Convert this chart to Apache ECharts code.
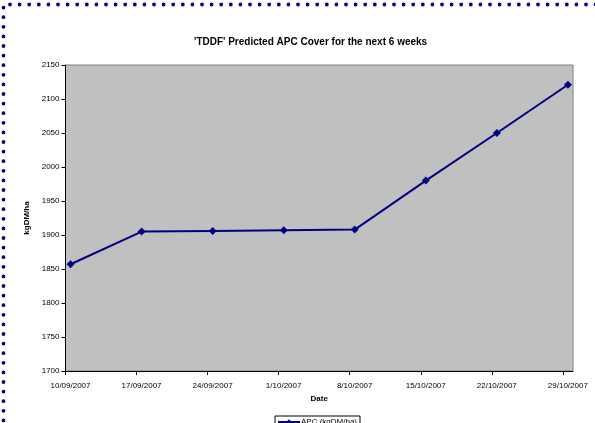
<!DOCTYPE html>
<html>
<head>
<meta charset="utf-8">
<script src="https://cdn.jsdelivr.net/npm/echarts@6/dist/echarts.min.js"></script>
<style>html,body{margin:0;padding:0;background:#fff;}#c{width:595px;height:423px;}</style>
</head>
<body>
<div id="c"></div>
<script>
const dates = ['10/09/2007','17/09/2007','24/09/2007','1/10/2007','8/10/2007','15/10/2007','22/10/2007','29/10/2007'];
const apc = [1857, 1905, 1906, 1907, 1908, 1980, 2050, 2121];
const yTicks = [1700, 1750, 1800, 1850, 1900, 1950, 2000, 2050, 2100, 2150];

function parseDate(s) { const p = s.split('/'); return Date.UTC(+p[2], +p[1] - 1, +p[0]); }
const t0 = parseDate(dates[0]);
const dayOf = s => Math.round((parseDate(s) - t0) / 86400000);
const lastDay = dayOf(dates[dates.length - 1]);
const labelByDay = {};
dates.forEach(d => { labelByDay[dayOf(d)] = d; });
// Excel "between dates": each date sits in the middle of its day band
const seriesData = dates.map((d, i) => [dayOf(d) + 0.5, apc[i]]);

const chart = echarts.init(document.getElementById('c'), null, {renderer: 'canvas'});
const font = 'Liberation Sans, Arial, sans-serif';
chart.setOption({
  animation: false,
  textStyle: {fontFamily: font},
  title: {
    text: "'TDDF' Predicted APC Cover for the next 6 weeks",
    left: 189, top: 32,
    textStyle: {fontSize: 10, fontWeight: 'bold', color: '#000', fontFamily: font}
  },
  grid: {
    left: 65.5, right: 22, top: 65, bottom: 52,
    show: true, backgroundColor: '#c0c0c0', borderColor: '#808080', borderWidth: 1
  },
  legend: {
    data: ['APC (kgDM/ha)'],
    left: 275, top: 416,
    borderColor: '#000', borderWidth: 1, padding: [2, 3, 2, 2],
    itemWidth: 22, itemHeight: 7, itemGap: 4,
    textStyle: {fontSize: 8, color: '#000', fontFamily: font, padding: [0,0,0,-4]}
  },
  xAxis: {
    type: 'value', min: 0, max: lastDay + 1, interval: 7,
    name: 'Date', nameLocation: 'middle', nameGap: 24,
    nameTextStyle: {fontSize: 8, fontWeight: 'bold', color: '#000', fontFamily: font},
    axisLine: {show: true, lineStyle: {color: '#000', width: 1}},
    axisTick: {show: true, length: 4, inside: false, lineStyle: {color: '#000'}},
    splitLine: {show: false},
    axisLabel: {
      fontSize: 8, color: '#000', margin: 11, padding: [0, 0, 0, 10],
      showMaxLabel: false,
      formatter: v => labelByDay[v] || ''
    }
  },
  yAxis: {
    type: 'value', min: yTicks[0], max: yTicks[yTicks.length - 1], interval: 50,
    name: 'kgDM/ha', nameLocation: 'middle', nameGap: 22, nameRotate: 90,
    nameTextStyle: {fontSize: 8, fontWeight: 'bold', color: '#000', fontFamily: font},
    axisLine: {show: true, lineStyle: {color: '#000', width: 1}},
    axisTick: {show: true, length: 4, inside: false, lineStyle: {color: '#000'}},
    splitLine: {show: false},
    axisLabel: {fontSize: 8, color: '#000', margin: 6, formatter: v => String(v)}
  },
  series: [{
    name: 'APC (kgDM/ha)',
    type: 'line',
    data: seriesData,
    symbol: 'diamond', symbolSize: 8,
    lineStyle: {color: '#000080', width: 2},
    itemStyle: {color: '#000080'}
  }],
  graphic: [{
    type: 'polyline',
    shape: {points: [[3.5, 430], [3.5, 4.5], [600, 4.5]]},
    style: {stroke: '#000080', lineWidth: 3.8, lineDash: [0, 9.6], lineCap: 'round', fill: null},
    silent: true, z: 100
  }]
});
</script>
</body>
</html>
